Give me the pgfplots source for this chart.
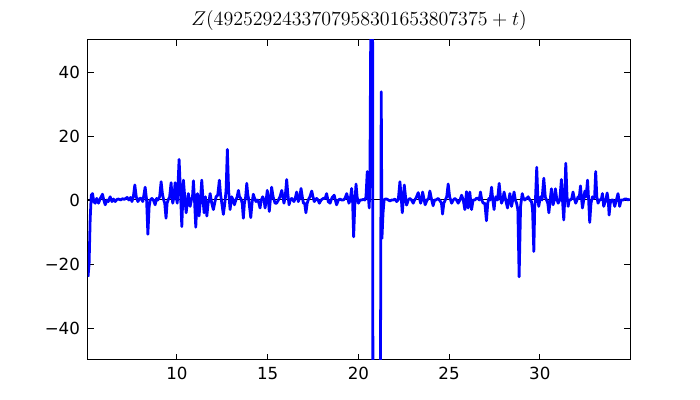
\documentclass[border=0pt]{standalone}
\usepackage[no-math]{fontspec}
\setmainfont{DejaVu Sans}
\usepackage{pgfplots}
\pgfplotsset{compat=1.18}
\begin{document}
\begin{tikzpicture}
\useasboundingbox (-63.36pt,-28.8pt) rectangle (440.64pt,259.2pt);
\begin{axis}[
  at={(0,0)}, anchor=south west, scale only axis,
  width=390.24pt, height=230.4pt,
  xmin=5.1, xmax=34.97, ymin=-50, ymax=50,
  xtick={10,15,20,25,30},
  ytick={-40,-20,0,20,40},
  yticklabels={−40,−20,0,20,40},
  xticklabels={10,15,20,25,30},
  tick align=inside, tick pos=both,
  major tick length=4pt,
  minor tick num=0,
  axis line style={line width=0.72pt},
  tick style={black, line width=0.6pt},
  tick label style={font=\fontsize{12}{14}\selectfont},
  xticklabel style={inner sep=0pt, yshift=-5pt},
  yticklabel style={inner sep=0pt, xshift=-5.6pt},
  /pgf/number format/assume math mode=true,
  title={$Z(4925292433707958301653807375+t)$},
  title style={at={(0.5,1)}, anchor=base, yshift=4.5pt, inner sep=0pt, font=\fontsize{14.4}{17}\selectfont},
  clip=true,
]
\addplot[black, line width=0.72pt, forget plot] coordinates {(5.1,0) (34.97,0)};
\addplot[blue, line width=2pt, line join=round, mark=none] coordinates {
(5.10,-24) (5.16,-20) (5.22,-6) (5.28,1.5) (5.35,2) (5.42,-0.5) (5.50,-1) (5.58,0.5)
(5.68,-1) (5.78,0.5) (5.90,1.8) (5.97,0) (6.05,-1.5) (6.15,0) (6.22,-0.5) (6.32,1)
(6.42,-0.5) (6.50,0.3) (6.60,-0.5) (6.70,0.2) (6.78,0.3) (6.90,0) (7.00,0.4) (7.10,0.2)
(7.18,0.5) (7.26,0.8) (7.35,0) (7.45,0.8) (7.52,-0.5) (7.60,1) (7.68,4.7) (7.76,1)
(7.85,-0.5) (7.95,0.5) (8.03,0.5) (8.12,-0.5) (8.25,4) (8.33,0) (8.40,-10.7) (8.47,-2)
(8.53,0) (8.62,0.5) (8.70,0) (8.80,-1.5) (8.88,0.5) (8.95,0) (9.05,1) (9.13,5.7)
(9.20,2) (9.27,0) (9.33,-1) (9.40,-5.7) (9.46,-1) (9.52,0) (9.60,1) (9.68,5.4)
(9.73,1) (9.77,-1) (9.84,1) (9.90,5.4) (9.96,1) (10.02,-1) (10.12,12.7) (10.20,2)
(10.27,-8.3) (10.32,0) (10.36,6.2) (10.43,1) (10.51,-4) (10.57,-1) (10.63,2) (10.68,0)
(10.73,-2) (10.80,0) (10.86,1) (10.91,6) (10.97,0) (11.04,-8.5) (11.09,-2) (11.13,2)
(11.18,0) (11.22,-5) (11.30,0) (11.37,6.2) (11.44,0) (11.50,-4) (11.57,1) (11.65,-5)
(11.72,-1) (11.78,0) (11.83,2) (11.92,-1) (12.01,-3) (12.08,-1) (12.16,1) (12.25,1.5)
(12.34,6.2) (12.40,2) (12.45,0) (12.56,-4.5) (12.64,-1) (12.71,3) (12.78,15.8) (12.85,3)
(12.93,-3) (13.02,1) (13.10,0) (13.17,-1.5) (13.25,0) (13.32,1) (13.39,3) (13.45,1)
(13.52,0.5) (13.60,-1) (13.66,-5.7) (13.72,-1) (13.79,1) (13.85,5.2) (13.90,2) (13.96,0)
(14.07,-5.5) (14.14,-1) (14.21,1.8) (14.28,0.5) (14.36,-0.5) (14.45,0) (14.52,-1) (14.58,-2.5)
(14.65,0) (14.73,1) (14.80,0) (14.86,-2.5) (14.92,0) (14.98,3) (15.04,0) (15.09,-3.6)
(15.15,0) (15.22,4) (15.30,1) (15.41,-1) (15.50,-1) (15.59,0) (15.68,1) (15.78,3)
(15.84,1) (15.90,-1) (15.97,1) (16.05,6.4) (16.11,2) (16.18,-1.5) (16.25,0) (16.33,0.5)
(16.45,-0.5) (16.52,0.5) (16.60,2.5) (16.69,-0.5) (16.76,0.5) (16.84,3.6) (16.91,1) (16.97,-1)
(17.04,-1) (17.11,-4) (17.18,-1) (17.24,0) (17.33,1) (17.43,2.8) (17.50,1) (17.57,-0.5)
(17.70,0.5) (17.78,0) (17.85,-1) (17.95,0) (18.07,0.5) (18.17,0.5) (18.25,2) (18.34,-0.5)
(18.44,-1) (18.50,0) (18.56,0.8) (18.67,1.5) (18.73,0) (18.80,-1.5) (18.90,0) (18.99,0.3)
(19.08,0) (19.17,0) (19.26,0.5) (19.36,2) (19.42,0.5) (19.48,-1) (19.55,0) (19.63,3.6)
(19.68,0) (19.74,-11.5) (19.80,-2) (19.87,5) (19.93,1) (20.00,-1) (20.09,0) (20.18,0)
(20.27,0.2) (20.36,0) (20.42,1) (20.49,8.9) (20.55,1) (20.60,-2.5) (20.64,10) (20.68,50)
(20.72,150) (20.76,140) (20.785,50) (20.80,-50) (20.85,-150) (21.15,-150) (21.22,-50) (21.26,33.8)
(21.30,-12) (21.36,-4) (21.42,0) (21.48,0.3) (21.56,0.3) (21.65,0) (21.74,-0.3) (21.83,0)
(21.92,0) (22.02,0.3) (22.11,-0.5) (22.20,0) (22.29,5.7) (22.36,1) (22.42,-4) (22.48,0)
(22.53,4.7) (22.60,1) (22.66,-1.6) (22.75,0) (22.84,0.5) (22.93,0) (23.02,-1) (23.10,0)
(23.17,0.5) (23.30,2.3) (23.37,0.5) (23.43,-1) (23.49,0) (23.54,2.5) (23.61,0.5) (23.68,-1.5)
(23.79,0) (23.87,0.5) (23.94,2.8) (24.02,0.5) (24.12,-1.8) (24.20,0) (24.27,0) (24.40,0.5)
(24.53,-0.5) (24.58,-1) (24.64,-4.4) (24.71,-1) (24.79,0) (24.87,1) (24.95,5) (25.03,1)
(25.14,-1) (25.23,0) (25.32,0.5) (25.41,0) (25.50,-1) (25.60,0) (25.69,1.5) (25.78,0)
(25.87,-3) (25.96,2.6) (26.05,-2.5) (26.14,2.5) (26.24,-3) (26.32,0) (26.42,0) (26.50,0.5)
(26.60,0.5) (26.66,0) (26.73,2.5) (26.80,0) (26.88,-1) (26.97,-1) (27.06,-6.5) (27.13,-1)
(27.19,0.5) (27.26,0) (27.34,4) (27.41,0) (27.48,-3) (27.53,0) (27.58,1) (27.67,0)
(27.76,5.2) (27.83,1) (27.89,-1) (27.96,0) (28.03,2.5) (28.12,0) (28.22,-2.5) (28.29,0)
(28.35,2) (28.40,0) (28.44,-2) (28.51,0) (28.58,2.5) (28.65,0) (28.72,-1) (28.79,-3)
(28.86,-24) (28.94,-2) (29.03,2) (29.10,0.5) (29.17,0) (29.27,0.5) (29.36,1) (29.45,0)
(29.54,-0.5) (29.60,-3) (29.67,-16.1) (29.72,-2) (29.76,0) (29.83,10.2) (29.89,1) (29.94,-2)
(30.00,0) (30.05,1) (30.12,0) (30.22,6.8) (30.30,1) (30.37,0) (30.44,-1) (30.50,-4)
(30.57,0) (30.64,3.5) (30.69,0.5) (30.73,-1.5) (30.80,0) (30.86,3.5) (30.93,0.5) (31.01,-1)
(31.10,0) (31.19,6.4) (31.25,0) (31.32,-6.25) (31.37,0) (31.43,11.5) (31.50,1) (31.56,-2)
(31.62,0) (31.69,0) (31.76,0.5) (31.83,2.5) (31.90,0.5) (31.98,-1) (32.05,0) (32.11,1)
(32.17,0.5) (32.24,4.4) (32.30,0.5) (32.35,-2.5) (32.42,0) (32.48,2.8) (32.55,1) (32.63,6.2)
(32.69,0) (32.75,-7) (32.82,-1) (32.90,1) (32.96,0.5) (33.02,1) (33.08,8.9) (33.14,1)
(33.21,-1) (33.28,0) (33.34,0) (33.40,0.5) (33.45,2) (33.52,-2) (33.58,-1) (33.64,0)
(33.71,2.2) (33.77,0) (33.82,-4.7) (33.88,-1) (33.95,0) (34.04,0) (34.13,-2) (34.22,0)
(34.31,2) (34.36,0) (34.40,-2) (34.48,0) (34.59,0) (34.68,0.3) (34.77,0.3) (34.87,0)
(34.96,0.3)
};
\end{axis}
\end{tikzpicture}
\end{document}
